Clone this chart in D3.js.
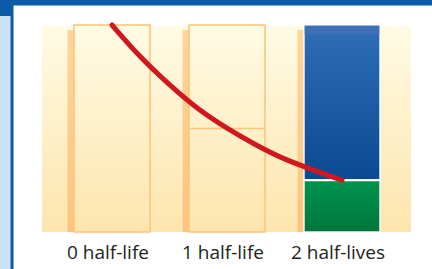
<!DOCTYPE html>
<html>
<head>
<meta charset="utf-8">
<script src="https://d3js.org/d3.v7.min.js"></script>
<style>
  body { margin: 0; background: #fff; }
  svg { display: block; }
</style>
</head>
<body>
<div id="chart"></div>
<script>
// categories (time elapsed, in half-lives)
var stages = [0, 1, 2];
var stageLabels = ["0 half-life", "1 half-life", "2 half-lives"];
// fraction of parent isotope remaining in each bar
var remaining = [1, 0.5, 0.25];
// decay curve (half-lives elapsed, fraction remaining)
var curveT = [0, 0.25, 0.5, 0.75, 1, 1.25, 1.5, 1.75, 2];
var curveF = [1, 0.84, 0.71, 0.59, 0.5, 0.42, 0.35, 0.3, 0.25];

var W = 432, H = 269;
var svg = d3.select("#chart").append("svg")
    .attr("width", W).attr("height", H);

var defs = svg.append("defs");
function grad(id, stops) {
  var g = defs.append("linearGradient").attr("id", id)
      .attr("x1", 0).attr("y1", 0).attr("x2", 0).attr("y2", 1);
  stops.forEach(function(s) {
    g.append("stop").attr("offset", s[0]).attr("stop-color", s[1]);
  });
}
grad("bg", [[0, "#fffbe5"], [1, "#fde5ad"]]);
grad("shadow", [[0, "#fed59c"], [1, "#fcc47e"]]);
grad("blue", [[0, "#2e6fb6"], [1, "#0a4a93"]]);
grad("green", [[0, "#00934f"], [1, "#00763b"]]);

// frame
svg.append("rect").attr("x", 0).attr("y", 0).attr("width", W).attr("height", 5.5).attr("fill", "#0a5aa8");
svg.append("rect").attr("x", 0).attr("y", 0).attr("width", 12).attr("height", 16).attr("fill", "#0a5aa8");
svg.append("rect").attr("x", 0).attr("y", 16).attr("width", 10.5).attr("height", H - 16).attr("fill", "#c9e2f4");
svg.append("rect").attr("x", 10.5).attr("y", 0).attr("width", 3).attr("height", H).attr("fill", "#0a5aa8");

// scales
var x = d3.scaleLinear().domain([0, 2]).range([112, 342]);
var y = d3.scaleLinear().domain([0, 1]).range([232, 25]);
var barW = 76;

// plot background
svg.append("rect")
    .attr("x", 42).attr("y", 26).attr("width", 369).attr("height", 206)
    .attr("fill", "url(#bg)");

var g = svg.append("g");

// shadow strips to the left of each bar
g.selectAll(".shadow").data(stages).enter().append("rect")
    .attr("x", function(d) { return x(d) - barW / 2 - 6.5; })
    .attr("y", y(0.976))
    .attr("width", 7)
    .attr("height", y(0) - y(0.976))
    .attr("fill", "url(#shadow)");

// bar outlines (cream bars)
g.selectAll(".bar").data(stages.filter(function(d) { return d < 2; })).enter().append("rect")
    .attr("x", function(d) { return x(d) - barW / 2; })
    .attr("y", y(1))
    .attr("width", barW)
    .attr("height", y(0) - y(1))
    .attr("fill", "url(#bg)")
    .attr("stroke", "#fdc67c")
    .attr("stroke-width", 1.6);

// half line in bar 1
g.append("line")
    .attr("x1", x(1) - barW / 2).attr("x2", x(1) + barW / 2)
    .attr("y1", y(remaining[1])).attr("y2", y(remaining[1]))
    .attr("stroke", "#fdc67c").attr("stroke-width", 1.6);

// bar 2: decayed (blue) over remaining (green)
var b2 = x(2) - barW / 2;
g.append("rect")
    .attr("x", b2).attr("y", y(1))
    .attr("width", barW).attr("height", y(remaining[2]) - y(1))
    .attr("fill", "url(#blue)")
    .attr("stroke", "#ffffff").attr("stroke-width", 1.4);
g.append("rect")
    .attr("x", b2 + 0.7).attr("y", y(1) + 0.7)
    .attr("width", barW - 1.4).attr("height", 9)
    .attr("fill", "#4271b8").attr("opacity", 0.8);
g.append("rect")
    .attr("x", b2).attr("y", y(remaining[2]))
    .attr("width", barW).attr("height", y(0) - y(remaining[2]))
    .attr("fill", "url(#green)")
    .attr("stroke", "#ffffff").attr("stroke-width", 1.4);
g.append("line")
    .attr("x1", b2 - 1).attr("x2", b2 + barW + 1)
    .attr("y1", y(remaining[2])).attr("y2", y(remaining[2]))
    .attr("stroke", "#ffffff").attr("stroke-width", 1.8);

// decay curve
var pts = curveT.map(function(t, i) { return [t, curveF[i]]; });
g.append("path")
    .datum(pts)
    .attr("d", d3.line()
      .x(function(d) { return x(d[0]); })
      .y(function(d) { return y(d[1]); })
      .curve(d3.curveBasis))
    .attr("fill", "none")
    .attr("stroke", "#d0161e")
    .attr("stroke-width", 5)
    .attr("stroke-linecap", "round");

// labels
g.selectAll(".lbl").data(stages).enter().append("text")
    .attr("x", function(d) { return x(d) - 4; })
    .attr("y", 259)
    .attr("text-anchor", "middle")
    .style("font-family", "'Open Sans', sans-serif")
    .style("font-size", "19px")
    .style("fill", "#231f20")
    .text(function(d, i) { return stageLabels[i]; });
</script>
</body>
</html>
